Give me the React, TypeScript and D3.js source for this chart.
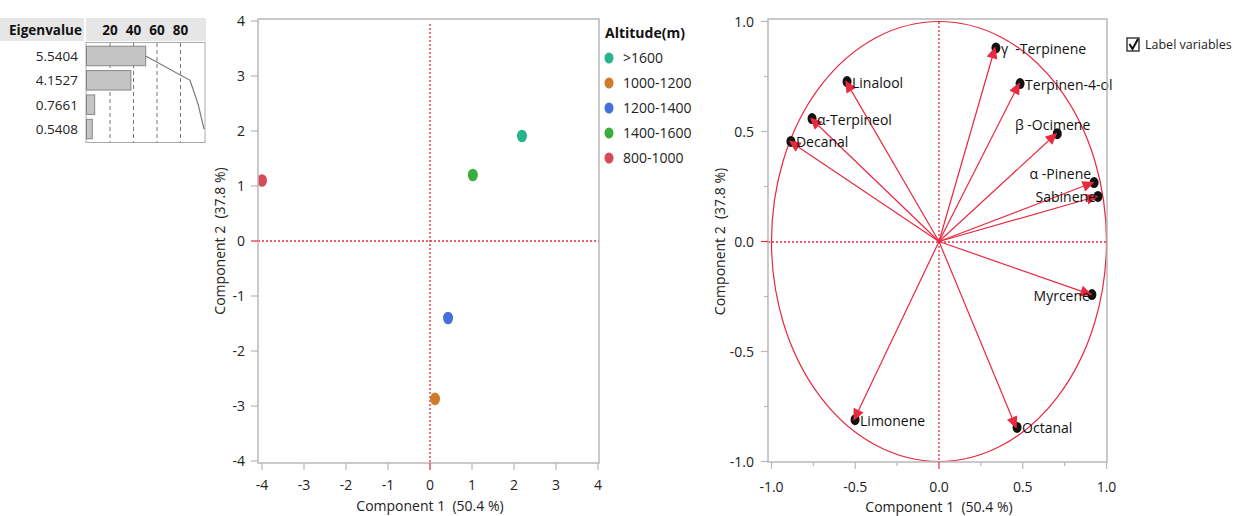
import * as d3 from "d3";

const eigenvalues = [5.5404, 4.1527, 0.7661, 0.5408];
const eigenTicks = [20, 40, 60, 80];

const groups = [">1600", "1000-1200", "1200-1400", "1400-1600", "800-1000"];
const groupColors = ["#26b38e", "#d17a2c", "#4270dd", "#3aac40", "#d64a5a"];
const scoreX = [2.19, 0.12, 0.43, 1.02, -4.0];
const scoreY = [1.91, -2.87, -1.4, 1.2, 1.1];
const scoreTicks = [-4, -3, -2, -1, 0, 1, 2, 3, 4];

const variables = [
  "γ  -Terpinene",
  "Terpinen-4-ol",
  "β -Ocimene",
  "α -Pinene",
  "Sabinene",
  "Myrcene",
  "Octanal",
  "Limonene",
  "Decanal",
  "α-Terpineol",
  "Linalool",
];
const loadX = [0.334, 0.478, 0.7, 0.92, 0.943, 0.907, 0.46, -0.507, -0.89, -0.764, -0.555];
const loadY = [0.88, 0.718, 0.49, 0.268, 0.205, -0.241, -0.845, -0.81, 0.455, 0.559, 0.727];
// label placement: "r" right of point, "l" left of point, "ul" above-left
const labelPos = ["r", "r", "ul", "ul", "l", "l", "r", "r", "r", "r", "r"];
const loadMajor = [-1, -0.5, 0, 0.5, 1];
const loadMinor = [-0.75, -0.25, 0.25, 0.75];

const font = "'Segoe UI', 'Open Sans', 'Noto Sans', sans-serif";
const axisGray = "#b8b8b8";
const red = "#e8293f";
const pre = { whiteSpace: "pre" as const };

function EigenTable() {
  const total = d3.sum(eigenvalues);
  const pct = eigenvalues.map((v) => (v / total) * 100);
  const cum = d3.cumsum(pct);
  const x = d3.scaleLinear().domain([0, 100]).range([86.5, 204]);
  const rowY = d3
    .scaleBand<number>()
    .domain(d3.range(eigenvalues.length))
    .range([45, 140])
    .paddingInner(0.2)
    .paddingOuter(0.05);
  const line = d3
    .line<number>()
    .x((d) => x(d))
    .y((_, i) => rowY(i)! + rowY.bandwidth() / 2);
  return (
    <g fontFamily={font}>
      <rect x={0} y={18} width={84} height={23} fill="#e6e6e6" />
      <rect x={86} y={18} width={120} height={23} fill="#e6e6e6" />
      <text x={9} y={35} fontSize={13.5} fontWeight="bold" fill="#111">
        Eigenvalue
      </text>
      {eigenTicks.map((t) => (
        <text key={t} x={x(t)} y={35} fontSize={13.5} fontWeight="bold" textAnchor="middle" fill="#111">
          {t}
        </text>
      ))}
      <rect x={86} y={42.5} width={119} height={100} fill="white" stroke="#aaa" />
      {eigenTicks.map((t) => (
        <line key={t} x1={x(t)} x2={x(t)} y1={43} y2={142} stroke="#777" strokeDasharray="4,3" />
      ))}
      {eigenvalues.map((v, i) => (
        <g key={i}>
          <rect
            x={x(0)}
            y={rowY(i)!}
            width={x(pct[i]) - x(0)}
            height={rowY.bandwidth()}
            fill="#c4c4c4"
            stroke="#888"
          />
          <text x={78} y={rowY(i)! + rowY.bandwidth() / 2 + 5} fontSize={13.5} textAnchor="end" fill="#222">
            {v.toFixed(4)}
          </text>
        </g>
      ))}
      <path d={line(Array.from(cum)) ?? ""} fill="none" stroke="#777" strokeWidth={1.2} />
    </g>
  );
}

function ScorePlot() {
  const x = d3.scaleLinear().domain([-4, 4]).range([262, 598]);
  const y = d3.scaleLinear().domain([-4, 4]).range([461, 21]);
  const fx0 = 258, fx1 = 599, fy0 = 19, fy1 = 463;
  return (
    <g fontFamily={font}>
      <defs>
        <clipPath id="scoreClip">
          <rect x={fx0} y={fy0} width={fx1 - fx0} height={fy1 - fy0} />
        </clipPath>
      </defs>
      <line x1={x(0)} x2={x(0)} y1={24} y2={fy1} stroke={red} strokeDasharray="2,2" strokeWidth={1.3} />
      <line x1={fx0} x2={fx1} y1={y(0)} y2={y(0)} stroke={red} strokeDasharray="2,2" strokeWidth={1.3} />
      <g clipPath="url(#scoreClip)">
        {groups.map((g, i) => (
          <ellipse key={g} cx={x(scoreX[i])} cy={y(scoreY[i])} rx={5} ry={6.3} fill={groupColors[i]} />
        ))}
      </g>
      <rect x={fx0} y={fy0} width={fx1 - fx0} height={fy1 - fy0} fill="none" stroke={axisGray} strokeWidth={1.5} />
      {scoreTicks.map((t) => (
        <g key={"x" + t}>
          <line x1={x(t)} x2={x(t)} y1={fy1} y2={fy1 + 7} stroke={t === 0 ? red : axisGray} strokeWidth={1.2} />
          <text x={x(t)} y={490} fontSize={14} textAnchor="middle" fill="#222">
            {t}
          </text>
        </g>
      ))}
      {scoreTicks.map((t) => (
        <g key={"y" + t}>
          <line x1={fx0 - 7} x2={fx0} y1={y(t)} y2={y(t)} stroke={t === 0 ? red : axisGray} strokeWidth={1.2} />
          <text x={245} y={y(t) + 5} fontSize={14} textAnchor="end" fill="#222">
            {t}
          </text>
        </g>
      ))}
      <text x={x(0)} y={511} fontSize={14} textAnchor="middle" fill="#222" style={pre}>
        Component 1  (50.4 %)
      </text>
      <text transform={`translate(225, ${y(0)}) rotate(-90)`} fontSize={14} textAnchor="middle" fill="#222" style={pre}>
        Component 2  (37.8 %)
      </text>
      <text x={605} y={38} fontSize={14} fontWeight="bold" fill="#111">
        Altitude(m)
      </text>
      {groups.map((g, i) => (
        <g key={g}>
          <ellipse cx={609} cy={58 + i * 25} rx={4.5} ry={5.5} fill={groupColors[i]} />
          <text x={623} y={63 + i * 25} fontSize={14} fill="#222">
            {g}
          </text>
        </g>
      ))}
    </g>
  );
}

function LoadingPlot() {
  const x = d3.scaleLinear().domain([-1, 1]).range([771.5, 1106.5]);
  const y = d3.scaleLinear().domain([-1, 1]).range([461.5, 21.5]);
  const fx0 = 768, fx1 = 1107, fy0 = 19, fy1 = 462;
  const cx = x(0), cy = y(0);
  const zy = Math.round(cy);
  return (
    <g fontFamily={font}>
      <line x1={cx} x2={cx} y1={fy0 + 3} y2={fy1} stroke={red} strokeDasharray="2,2" strokeWidth={1.3} />
      <line x1={fx0} x2={fx1} y1={zy} y2={zy} stroke={red} strokeDasharray="2,2" strokeWidth={1.3} />
      <ellipse cx={cx} cy={cy} rx={x(1) - x(0)} ry={y(0) - y(1)} fill="none" stroke={red} strokeWidth={1.2} />
      {variables.map((v, i) => {
        const px = x(loadX[i]);
        const py = y(loadY[i]);
        const ang = Math.atan2(py - cy, px - cx);
        const len = 12, hw = 5.5;
        const tx = px + 1.5 * Math.cos(ang);
        const ty = py + 1.5 * Math.sin(ang);
        const bx = tx - len * Math.cos(ang);
        const by = ty - len * Math.sin(ang);
        const nx = -Math.sin(ang) * hw;
        const ny = Math.cos(ang) * hw;
        return (
          <g key={v}>
            <ellipse cx={px + 1} cy={py} rx={4.5} ry={5.5} fill="#111" />
            <line x1={cx} y1={cy} x2={bx} y2={by} stroke={red} strokeWidth={1.2} />
            <polygon
              points={`${tx},${ty} ${bx + nx},${by + ny} ${bx - nx},${by - ny}`}
              fill={red}
            />
          </g>
        );
      })}
      {variables.map((v, i) => {
        const px = x(loadX[i]);
        const py = y(loadY[i]);
        const pos = labelPos[i];
        let tx = px + 6, ty = py + 6, anchor = "start";
        if (pos === "l") {
          tx = px - 1;
          anchor = "end";
        } else if (pos === "ul") {
          tx = px - 2;
          ty = py - 4;
          anchor = "end";
        }
        if (v === "β -Ocimene") tx = px + 34;
        return (
          <text key={v} x={tx} y={ty} fontSize={14} textAnchor={anchor} fill="#111" style={pre}>
            {v}
          </text>
        );
      })}
      <rect x={fx0} y={fy0} width={fx1 - fx0} height={fy1 - fy0} fill="none" stroke={axisGray} strokeWidth={1.5} />
      {loadMajor.map((t) => (
        <g key={"x" + t}>
          <line x1={x(t)} x2={x(t)} y1={fy1} y2={fy1 + 7} stroke={t === 0 ? red : axisGray} strokeWidth={1.2} />
          <text x={x(t)} y={492} fontSize={14} textAnchor="middle" fill="#222">
            {t.toFixed(1)}
          </text>
          <line x1={fx0 - 7} x2={fx0} y1={y(t)} y2={y(t)} stroke={t === 0 ? red : axisGray} strokeWidth={1.2} />
          <text x={754} y={y(t) + 5} fontSize={14} textAnchor="end" fill="#222">
            {t.toFixed(1)}
          </text>
        </g>
      ))}
      {loadMinor.map((t) => (
        <g key={"m" + t}>
          <line x1={x(t)} x2={x(t)} y1={fy1} y2={fy1 + 4} stroke={axisGray} strokeWidth={1.2} />
          <line x1={fx0 - 4} x2={fx0} y1={y(t)} y2={y(t)} stroke={axisGray} strokeWidth={1.2} />
        </g>
      ))}
      <text x={cx} y={512} fontSize={14} textAnchor="middle" fill="#222" style={pre}>
        Component 1  (50.4 %)
      </text>
      <text transform={`translate(725, ${cy}) rotate(-90)`} fontSize={14} textAnchor="middle" fill="#222" style={pre}>
        Component 2  (37.8 %)
      </text>
      <rect x={1127} y={38} width={12} height={13} fill="white" stroke="#222" strokeWidth={1.3} />
      <path d="M1129.5,44 L1132.5,49 L1138,39" fill="none" stroke="#111" strokeWidth={2} />
      <text x={1145} y={49} fontSize={12.5} fill="#222">
        Label variables
      </text>
    </g>
  );
}

export default function App() {
  return (
    <svg
      width={1233}
      height={516}
      style={{ position: "absolute", left: 0, top: 0, background: "white" }}
    >
      <rect width={1233} height={516} fill="white" />
      <EigenTable />
      <ScorePlot />
      <LoadingPlot />
    </svg>
  );
}
